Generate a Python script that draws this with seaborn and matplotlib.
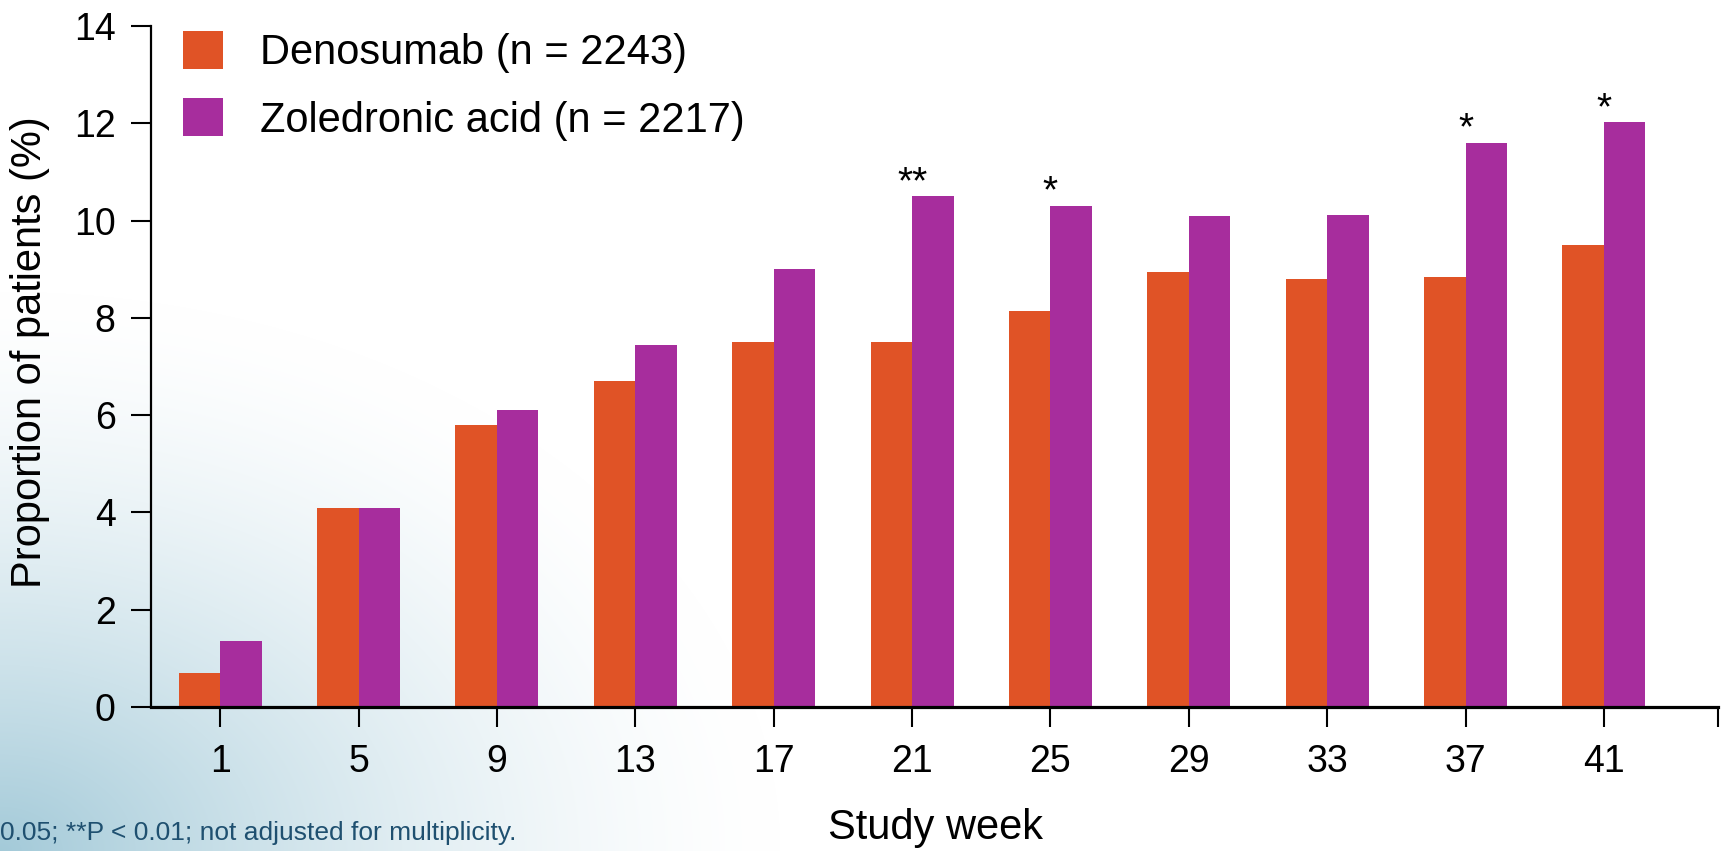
import numpy as np
import pandas as pd
import matplotlib
matplotlib.use("Agg")
import matplotlib.pyplot as plt
import seaborn as sns

# ---- data ----
weeks = ["1", "5", "9", "13", "17", "21", "25", "29", "33", "37", "41"]
denosumab = [0.7, 4.1, 5.8, 6.7, 7.5, 7.5, 8.15, 8.95, 8.8, 8.85, 9.5]
zoledronic = [1.35, 4.1, 6.1, 7.45, 9.0, 10.5, 10.3, 10.1, 10.12, 11.6, 12.02]
series_names = ["Denosumab (n = 2243)", "Zoledronic acid (n = 2217)"]
significance = ["", "", "", "", "", "**", "*", "", "", "*", "*"]
yticks = [0, 2, 4, 6, 8, 10, 12, 14]
footnote = "0.05; **P < 0.01; not adjusted for multiplicity."

colors = ["#E05326", "#A72D9D"]

df = pd.DataFrame({
    "week": weeks * 2,
    "value": denosumab + zoledronic,
    "group": [series_names[0]] * len(weeks) + [series_names[1]] * len(weeks),
})

sns.set_style("white")
plt.rcParams["font.family"] = ["Liberation Sans", "DejaVu Sans"]
plt.rcParams["text.color"] = "black"

W, H = 1724, 851
fig = plt.figure(figsize=(W / 100, H / 100), dpi=100)
fig.patch.set_facecolor("white")

# soft background gradient in the lower-left corner
bg = fig.add_axes([0, 0, 1, 1], zorder=0)
yy, xx = np.mgrid[0:H, 0:W]
d = np.sqrt((xx / 780.0) ** 2 + ((H - yy) / 560.0) ** 2)
inten = np.clip(1 - d, 0, 1) ** 1.5 * 0.72
base = np.array([0.50, 0.71, 0.79])
img = np.ones((H, W, 3)) * (1 - inten[..., None]) + base * inten[..., None]
bg.imshow(img, extent=[0, W, H, 0], aspect="auto", interpolation="bilinear")
bg.set_axis_off()

# main axes
left, right = 151 / W, 1718 / W
bottom, top = 1 - 707 / H, 1 - 26 / H
ax = fig.add_axes([left, bottom, right - left, top - bottom], zorder=1)
ax.patch.set_alpha(0)

sns.barplot(data=df, x="week", y="value", hue="group", palette=colors,
            width=0.6, saturation=1, ax=ax, errorbar=None, zorder=2,
            linewidth=0, edgecolor="none")

ax.set_xlim(-0.5, 10.824)
ax.set_ylim(0, 14)
ax.set_yticks(yticks)
ax.set_yticklabels([str(t) for t in yticks])

for s in ["top", "right"]:
    ax.spines[s].set_visible(False)
ax.spines["left"].set_linewidth(1.6)
ax.spines["bottom"].set_linewidth(2.3)
ax.spines["left"].set_color("black")
ax.spines["bottom"].set_color("black")

ax.tick_params(axis="both", which="both", bottom=True, left=True,
               direction="out", length=14.5, width=1.5,
               color="black", labelsize=27, labelcolor="black")
ax.tick_params(axis="y", pad=11)
ax.tick_params(axis="x", pad=12)
ax.set_xticks([10.824], minor=True)

ax.set_xlabel("")
ax.set_ylabel("")

# significance markers
for i, s in enumerate(significance):
    if s:
        ax.text(i, zoledronic[i] + 0.07, s, ha="center", va="baseline",
                fontsize=28, color="black", zorder=3)

# legend
handles, labels = ax.get_legend_handles_labels()
ax.legend(handles, labels, loc="upper left",
          bbox_to_anchor=(183 / W, 1 - 31 / H), bbox_transform=fig.transFigure,
          frameon=False, fontsize=30, handlelength=0.96, handleheight=1.03,
          handletextpad=0.88, labelspacing=0.6, borderpad=0, borderaxespad=0,
          labelcolor="black")

# axis titles and footnote
fig.text(30 / W, 1 - 352 / H, "Proportion of patients (%)", rotation=90,
         ha="center", va="center", fontsize=30, color="black")
fig.text(936 / W, 1 - 839 / H, "Study week", ha="center", va="baseline",
         fontsize=30, color="black")
fig.text(0 / W, 1 - 840 / H, footnote, ha="left", va="baseline",
         fontsize=19, color="#1f5070")

fig.savefig("out.png", dpi=100)
